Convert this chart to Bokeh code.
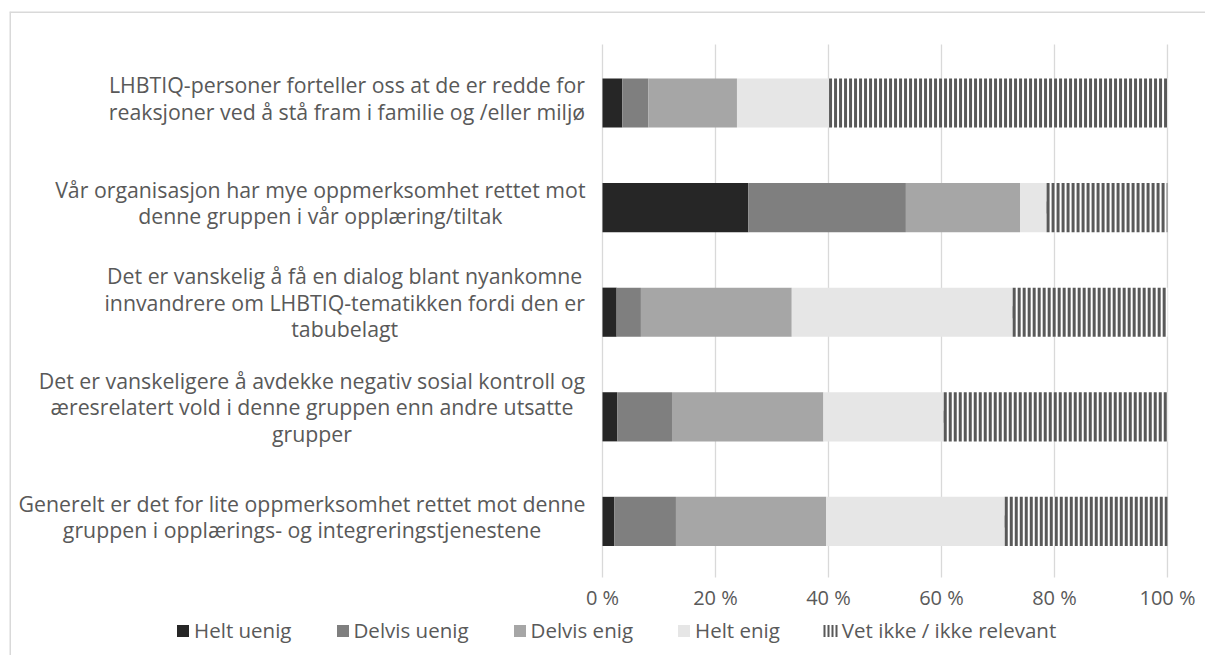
from bokeh.plotting import figure
from bokeh.models import FixedTicker, Legend, LegendItem, ColumnDataSource, Span
from bokeh.transform import stack
from bokeh.core.properties import value
from bokeh.embed import file_html
from bokeh.resources import INLINE

# ---------------- data ----------------
statements = [
    "LHBTIQ-personer forteller oss at de er redde for\nreaksjoner ved å stå fram i familie og /eller miljø",
    "Vår organisasjon har mye oppmerksomhet rettet mot\ndenne gruppen i vår opplæring/tiltak",
    "Det er vanskelig å få en dialog blant nyankomne\ninnvandrere om LHBTIQ-tematikken fordi den er\ntabubelagt",
    "Det er vanskeligere å avdekke negativ sosial kontroll og\næresrelatert vold i denne gruppen enn andre utsatte\ngrupper",
    "Generelt er det for lite oppmerksomhet rettet mot denne\ngruppen i opplærings- og integreringstjenestene",
]
series = ["Helt uenig", "Delvis uenig", "Delvis enig", "Helt enig", "Vet ikke / ikke relevant"]
helt_uenig = [3.5, 25.8, 2.5, 2.6, 2.1]
delvis_uenig = [4.6, 27.9, 4.3, 9.7, 10.9]
delvis_enig = [15.7, 20.2, 26.7, 26.8, 26.6]
helt_enig = [16.3, 4.7, 39.1, 21.3, 31.6]
vet_ikke = [59.9, 21.4, 27.4, 39.6, 28.8]
tick_values = [0, 20, 40, 60, 80, 100]
tick_labels = ["0 %", "20 %", "40 %", "60 %", "80 %", "100 %"]

# ---------------- styling / layout ----------------
FONT = "Open Sans"
TEXT = "#595959"
GRID = "#d9d9d9"
STRIPE = "#595959"
colors = ["#262626", "#7f7f7f", "#a6a6a6", "#e6e6e6"]
LABEL_PX = 21.3
LEGEND_PX = 20.5
FRAME_L, FRAME_T = 9, 11
FRAME_W, FRAME_H = 1196, 644
X0, X1 = -104.96, 106.73
Y0, Y1 = -1.282, 4.875
AXIS_Y = -0.536          # bottom of the plot area, where the value axis sits
BAR_H = 0.47
LABEL_RIGHT = -3.0       # right edge of the category label blocks (% units)
PX_PER_PCT = FRAME_W / (X1 - X0)
PX_PER_Y = FRAME_H / (Y1 - Y0)
LEGEND_CX = 620          # horizontal centre of the legend (px)
LEGEND_BOTTOM = 11       # legend distance above the frame bottom (px)
LEG_GLYPH, LEG_STANDOFF, LEG_SPACING, LEG_PAD = 15, 4, 43, 4

# approximate Open Sans advance widths (em), used to centre text blocks
_W = {" ": .26, "a": .556, "b": .613, "c": .476, "d": .613, "e": .561, "f": .339, "g": .548,
      "h": .614, "i": .253, "j": .253, "k": .525, "l": .253, "m": .93, "n": .614, "o": .604,
      "p": .613, "q": .613, "r": .408, "s": .477, "t": .353, "u": .614, "v": .501, "w": .778,
      "x": .524, "y": .502, "z": .477, "å": .556, "æ": .858, "ø": .604, "L": .526, "H": .742,
      "B": .669, "T": .549, "I": .284, "Q": .781, "V": .578, "D": .738, "G": .732, "-": .322,
      "/": .367}


def text_w(line, px):
    return sum(_W.get(c, .56) for c in line) * px


n = len(statements)
ypos = [n - 1 - i for i in range(n)]
keys = ["s%d" % i for i in range(len(series))]
label_x = [LABEL_RIGHT - max(text_w(l, LABEL_PX) for l in s.split("\n")) / 2 / PX_PER_PCT
           for s in statements]
label_dy = [-(s.count("\n")) * 5 for s in statements]

src = ColumnDataSource(dict(
    y=ypos, label=statements, lx=label_x, dy=label_dy,
    s0=helt_uenig, s1=delvis_uenig, s2=delvis_enig, s3=helt_enig, s4=vet_ikke,
))

p = figure(
    frame_width=FRAME_W, frame_height=FRAME_H,
    x_range=(X0, X1), y_range=(Y0, Y1),
    y_axis_location=None, toolbar_location=None, output_backend="svg",
    min_border_left=FRAME_L, min_border_right=0, min_border_top=FRAME_T, min_border_bottom=0,
    outline_line_color=None, background_fill_color="white", border_fill_color="white",
)
p.xgrid.visible = False
p.ygrid.visible = False

# chart-area border (left and top)
p.add_layout(Span(location=X0, dimension="height", line_color=GRID, line_width=3))
p.add_layout(Span(location=Y1, dimension="width", line_color=GRID, line_width=3))

# vertical gridlines at the tick positions
p.segment(x0=tick_values, x1=tick_values,
          y0=[AXIS_Y] * len(tick_values), y1=[n - 0.44] * len(tick_values),
          line_color=GRID, line_width=1.3)

renderers = p.hbar_stack(
    keys[:4], y="y", height=BAR_H, source=src,
    fill_color=colors, line_color=None,
)
# "Vet ikke": white bar with vertical stripes (a thick dashed line)
p.hbar(y="y", left=stack(*keys[:4]), right=stack(*keys), height=BAR_H, source=src,
       fill_color="white", line_color=None)
p.segment(x0=stack(*keys[:4]), x1=stack(*keys), y0="y", y1="y", source=src,
          line_color=STRIPE, line_width=BAR_H * PX_PER_Y, line_dash="3 2", line_cap="butt")
# zero-length copy (invisible in the plot) that gives the legend its striped glyph
r_leg = p.segment(x0=stack(*keys[:4]), x1=stack(*keys[:4]), y0="y", y1="y", source=src,
                  line_color=STRIPE, line_width=LEG_GLYPH - 3, line_dash="2 2",
                  line_cap="butt")
renderers = list(renderers) + [r_leg]

p.text(x="lx", y="y", text="label", source=src, y_offset="dy",
       text_align="center", text_baseline="middle",
       text_font=value(FONT), text_font_size="%gpx" % LABEL_PX, text_color=TEXT,
       text_line_height=0.92)

ax = p.xaxis[0]
ax.fixed_location = AXIS_Y
ax.ticker = FixedTicker(ticks=tick_values)
ax.major_label_overrides = {v: t for v, t in zip(tick_values, tick_labels)}
ax.bounds = (0, 100)
ax.axis_line_color = None
ax.major_tick_line_color = None
ax.minor_tick_line_color = None
ax.major_tick_in = 0
ax.major_tick_out = 0
ax.minor_tick_in = 0
ax.minor_tick_out = 0
ax.major_label_standoff = 7
ax.major_label_text_font = FONT
ax.major_label_text_font_size = "20px"
ax.major_label_text_color = TEXT

legend_w = (2 * LEG_PAD + LEG_SPACING * (len(series) - 1)
            + sum(LEG_GLYPH + LEG_STANDOFF + text_w(s, LEGEND_PX) for s in series))
legend = Legend(
    items=[LegendItem(label=s, renderers=[r]) for s, r in zip(series, renderers)],
    orientation="horizontal",
    location=(LEGEND_CX - legend_w / 2 - FRAME_L, LEGEND_BOTTOM),
    border_line_color=None, background_fill_alpha=0,
    label_text_font=FONT, label_text_font_size="%gpx" % LEGEND_PX, label_text_color=TEXT,
    glyph_width=LEG_GLYPH, glyph_height=LEG_GLYPH, label_standoff=LEG_STANDOFF,
    spacing=LEG_SPACING, padding=LEG_PAD, margin=0,
)
p.add_layout(legend)

open("out.html", "w").write(file_html(p, INLINE))
